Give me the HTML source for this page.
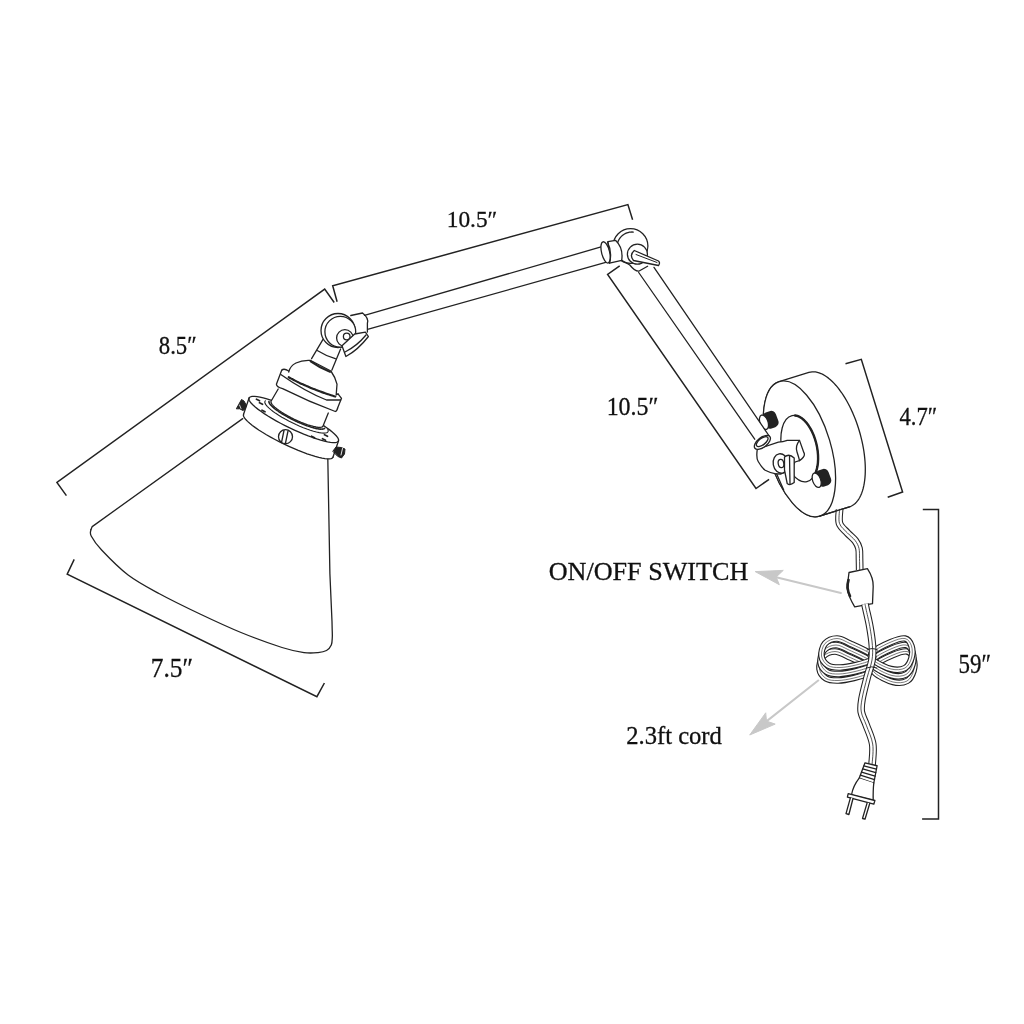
<!DOCTYPE html>
<html><head><meta charset="utf-8"><style>
html,body{margin:0;padding:0;background:#fff;width:1024px;height:1024px;overflow:hidden}
svg{display:block;will-change:transform}
text{font-family:"Liberation Serif",serif;fill:#111;stroke:#111;stroke-width:0.3px}
</style></head><body>
<svg width="1024" height="1024" viewBox="0 0 1024 1024">
<rect width="1024" height="1024" fill="#fff"/>
<g fill="none" stroke="#222" stroke-width="1.5">
<polyline points="66.4,495.6 56.9,482.4 324.7,289.1 334.2,302.5"/>
<polyline points="337.1,301.8 332.7,285.8 627.9,204.6 632.6,219.8"/>
<polyline points="619.7,265.9 607.6,274.4 756,488.5 769.1,479.3"/>
<polyline points="845.5,363.7 861.3,359.3 902.6,492 887.7,497.3"/>
<polyline points="922.8,509.6 938.5,509.6 938.5,818.9 922.1,818.9"/>
<polyline points="74.2,559.4 67.2,574.2 316.9,696.7 324.4,683"/>
</g>
<g fill="none" stroke="#222" stroke-width="1.3" stroke-linejoin="round" stroke-linecap="round">
<polyline points="242.7,418.6 92.2,526.6 90.9,529.7"/>
<path d="M90.9,529.7 C90.95,530.75 89.42,532.62 91.2,536 C92.98,539.38 95.45,543.5 101.6,550 C107.75,556.5 118.47,567.71 128.1,575 C137.73,582.29 147.42,587.25 159.4,593.75 C171.38,600.25 186.4,607.54 200,614 C213.6,620.46 227.33,626.92 241,632.5 C254.67,638.08 271.5,644.15 282,647.5 C292.5,650.85 298,651.75 304,652.6 C310,653.45 314.25,652.95 318,652.6 C321.75,652.25 324.28,651.77 326.5,650.5 C328.72,649.23 330.33,647.25 331.3,645 C332.27,642.75 332.15,639.5 332.3,637 C332.45,634.5 332.22,631.17 332.2,630 L332,621.5 L329.9,573.7 L327.8,457.9"/>
</g>
<g fill="none" stroke="#222" stroke-width="1.3" stroke-linejoin="round" stroke-linecap="round">
<path d="M338.44,441.01 337.78,441.77 336.63,442.28 335.01,442.55 332.94,442.56 330.44,442.32 327.54,441.83 324.27,441.09 320.66,440.12 316.76,438.92 312.6,437.51 308.24,435.9 303.73,434.12 299.1,432.17 294.41,430.08 289.72,427.88 285.07,425.59 280.51,423.22 276.1,420.82 271.89,418.41 267.91,416 264.22,413.64 260.85,411.33 257.84,409.12 255.22,407.02 253.03,405.06 251.28,403.26 250,401.63 249.19,400.2 248.88,398.98 249.06,397.99 L243.56,414.29 243.38,415.28 243.69,416.5 244.5,417.93 245.78,419.56 247.53,421.36 249.72,423.32 252.34,425.42 255.35,427.63 258.72,429.94 262.41,432.3 266.39,434.71 270.6,437.12 275.01,439.52 279.57,441.89 284.22,444.18 288.91,446.38 293.6,448.47 298.23,450.42 302.74,452.2 307.1,453.81 311.26,455.22 315.16,456.42 318.77,457.39 322.04,458.13 324.94,458.62 327.44,458.86 329.51,458.85 331.13,458.58 332.28,458.07 332.94,457.31 Z" fill="#fff" stroke="none"/>
<path d="M338.44,441.01 337.78,441.77 336.63,442.28 335.01,442.55 332.94,442.56 330.44,442.32 327.54,441.83 324.27,441.09 320.66,440.12 316.76,438.92 312.6,437.51 308.24,435.9 303.73,434.12 299.1,432.17 294.41,430.08 289.72,427.88 285.07,425.59 280.51,423.22 276.1,420.82 271.89,418.41 267.91,416 264.22,413.64 260.85,411.33 257.84,409.12 255.22,407.02 253.03,405.06 251.28,403.26 250,401.63 249.19,400.2 248.88,398.98 249.06,397.99 249.72,397.23 250.87,396.72 252.49,396.45 254.56,396.44 257.06,396.68 259.96,397.17 263.23,397.91 266.84,398.88 270.74,400.08 274.9,401.49 279.26,403.1 283.77,404.88 288.4,406.83 293.09,408.92 297.78,411.12 302.43,413.41 306.99,415.78 311.4,418.18 315.61,420.59 319.59,423 323.28,425.36 326.65,427.67 329.66,429.88 332.28,431.98 334.47,433.94 336.22,435.74 337.5,437.37 338.31,438.8 338.62,440.02 338.44,441.01Z" fill="#fff"/>
<polyline points="332.94,457.31 332.28,458.07 331.13,458.58 329.51,458.85 327.44,458.86 324.94,458.62 322.04,458.13 318.77,457.39 315.16,456.42 311.26,455.22 307.1,453.81 302.74,452.2 298.23,450.42 293.6,448.47 288.91,446.38 284.22,444.18 279.57,441.89 275.01,439.52 270.6,437.12 266.39,434.71 262.41,432.3 258.72,429.94 255.35,427.63 252.34,425.42 249.72,423.32 247.53,421.36 245.78,419.56 244.5,417.93 243.69,416.5 243.38,415.28 243.56,414.29"/>
<polyline points="249.06,397.99 243.56,414.29"/><polyline points="338.44,441.01 332.94,457.31"/>
<line x1="256.5" y1="399.3" x2="259.5" y2="400.7" stroke-width="1.8"/>
<line x1="259.5" y1="402.8" x2="262.5" y2="404.2" stroke-width="1.8"/>
<line x1="262.0" y1="410.3" x2="265.0" y2="411.7" stroke-width="1.8"/>
<line x1="324.5" y1="434.8" x2="327.5" y2="436.2" stroke-width="1.8"/>
<line x1="322.5" y1="438.8" x2="325.5" y2="440.2" stroke-width="1.8"/>
<line x1="311.5" y1="436.3" x2="314.5" y2="437.7" stroke-width="1.8"/>
<polyline points="327.8,429.41 328.18,430.54 328.12,431.48 327.63,432.21 326.73,432.73 325.41,433.03 323.71,433.11 321.63,432.97 319.22,432.6 316.5,432.01 313.51,431.22 310.29,430.22 306.88,429.04 303.33,427.69 299.69,426.19 296.01,424.56 292.33,422.81 288.71,420.99 285.2,419.1 281.83,417.18 278.67,415.24 275.75,413.33 273.1,411.46 270.78,409.65 268.8,407.94 267.2,406.35 265.99,404.89 265.2,403.59 264.82,402.46 264.88,401.52 265.37,400.79" stroke-width="1.1"/>
<polyline points="324.58,428.4 323.93,428.8 323.01,429.05 321.84,429.16 320.43,429.13 318.79,428.95 316.93,428.63 314.88,428.18 312.66,427.59 310.28,426.87 307.78,426.04 305.16,425.09 302.47,424.03 299.73,422.88 296.95,421.66 294.18,420.36 291.44,419 288.75,417.6 286.14,416.17 283.63,414.72 281.26,413.28 279.04,411.84 277,410.43 275.15,409.06 273.52,407.74 272.11,406.49 270.95,405.31 270.04,404.23 269.4,403.25 269.03,402.37 268.93,401.62" stroke-width="1.6" stroke-dasharray="2.5 1.2"/>
<circle cx="285.5" cy="436.7" r="7" fill="#fff"/>
<line x1="284" y1="430.5" x2="281.5" y2="442.5"/><line x1="288" y1="431" x2="285.5" y2="443"/>
<path d="M236.5,408.5 L239,404 L241.5,399.5 L244,401 L246.5,405.5 L245,409 L243,410.5 L240,409 Z" fill="#222" stroke-width="1"/>
<path d="M239.5,405 L241,408.5" stroke="#fff" stroke-width="0.8"/>
<path d="M333,451 L336,447 L341,447.5 L345,449 L344.5,454 L341.5,458 L338,456.5 Z" fill="#222" stroke-width="1"/>
<path d="M342.5,448.5 L341,455" stroke="#fff" stroke-width="0.9"/>
<path d="M278.2,389 L271.05,401.21 270.92,402.05 271.24,403.08 272,404.3 273.18,405.68 274.77,407.19 276.75,408.82 279.07,410.53 281.7,412.29 284.58,414.08 287.69,415.86 290.95,417.61 294.31,419.29 297.72,420.87 301.12,422.33 304.45,423.64 307.65,424.78 310.66,425.74 313.45,426.48 315.95,427.01 318.13,427.31 319.95,427.38 321.37,427.21 322.38,426.81 322.95,426.19 L328.3,413 Z" fill="#fff" stroke="none"/>
<polyline points="278.2,389 271.05,401.21 270.92,402.05 271.24,403.08 272,404.3 273.18,405.68 274.77,407.19 276.75,408.82 279.07,410.53 281.7,412.29 284.58,414.08 287.69,415.86 290.95,417.61 294.31,419.29 297.72,420.87 301.12,422.33 304.45,423.64 307.65,424.78 310.66,425.74 313.45,426.48 315.95,427.01 318.13,427.31 319.95,427.38 321.37,427.21 322.38,426.81 322.95,426.19 328.3,413"/>
<path d="M281.7,370.2 L276.4,384.2 Q276.5,387 282.6,388.6 Q309,401.8 335.3,411.5 Q337,411 338,407 L341.5,398.3 L338,393.9" fill="#fff"/>
<path d="M281.7,370.2 Q284,368 288.7,371"/>
<path d="M280.8,374.5 Q304.5,391.2 326.5,400 L340.6,400"/>
<path d="M288.7,372 Q290,366 296,363 Q302,360 310.7,360.5 L330.9,371 Q335.3,377.2 337,384.2 L336.2,394.8 L338,393.9" fill="#fff"/>
<path d="M288.7,377.2 Q309,388.6 335.3,396.5" stroke-width="2.2" stroke-dasharray="3 1"/>
<path d="M310.7,361.4 Q320,368 330,371.9" stroke-width="2"/>
<path d="M311.6,358.7 L323,339.4 M331.8,370.2 L340.6,349 M317.7,350.8 Q326,356 335.3,358.7"/>
<circle cx="338" cy="330.5" r="17" fill="#fff"/>
<circle cx="340.3" cy="331.8" r="15.4" fill="#fff"/>
<path d="M350.8,315.5 L362.5,313 Q369,318 367.4,323.3 L367.4,332.1" fill="#fff"/>
<circle cx="344.9" cy="338" r="8.3" fill="#fff"/>
<circle cx="346.7" cy="336.5" r="3.3"/>
<path d="M342,345.8 L354.7,334 L365.4,332.1 L368.4,336.5 Q358,350 345.9,356.5 Z" fill="#fff"/>
<path d="M345,352 Q357,346 366,335"/>
<path d="M364.5,315.3 L601.9,246.7 M368.4,329.2 L605.7,262.4"/>
<circle cx="630.5" cy="246" r="17.4" fill="#fff"/>
<polyline points="617.51,243.12 617.9,241.87 618.41,240.66 619.01,239.5 619.71,238.4 620.51,237.36 621.39,236.39 622.36,235.51 623.4,234.71 624.5,234.01 625.66,233.41 626.87,232.9 628.12,232.51 629.4,232.23 630.69,232.06 632,232 633.31,232.06"/>
<path d="M608,241.6 L615.5,240.3 Q623.5,248 621.7,260.3 L609.5,263.2 Z" fill="#fff"/>
<ellipse cx="605.6" cy="252.4" rx="4" ry="10.9" transform="rotate(-14 605.6 252.4)" fill="#fff"/>
<path d="M607.5,242 Q612.5,252 609.5,263"/>
<path d="M621.7,260.3 L629.8,265 Q635,271.5 638.7,271.2 L647.6,266.2"/>
<circle cx="637.4" cy="254.2" r="10" fill="#fff"/>
<path d="M634.3,250.5 L658.5,261 Q660.5,263 658.5,265.5 L633.5,260.5 Q629,255 634.3,250.5Z" fill="#fff"/>
<path d="M636,254.5 L657,262.5" stroke-width="1"/>
</g>
<g fill="none" stroke="#222" stroke-width="1.3" stroke-linejoin="round" stroke-linecap="round">
<path d="M808.89,372.44 810.48,372.04 812.13,371.82 813.82,371.79 815.56,371.95 817.33,372.29 819.13,372.81 820.96,373.52 822.82,374.41 824.69,375.48 826.58,376.72 828.47,378.14 830.36,379.73 832.25,381.48 834.13,383.39 836,385.45 837.85,387.66 839.67,390.02 841.47,392.51 843.23,395.13 844.96,397.87 846.64,400.73 848.27,403.69 849.85,406.75 851.37,409.9 852.84,413.14 854.23,416.44 855.56,419.81 856.82,423.24 858,426.71 859.1,430.21 860.12,433.74 861.05,437.29 861.9,440.84 862.66,444.39 863.32,447.93 863.9,451.44 864.37,454.92 864.75,458.36 865.04,461.75 865.22,465.08 865.31,468.34 865.29,471.52 865.18,474.61 864.97,477.61 864.66,480.5 864.25,483.28 863.75,485.94 863.15,488.48 862.46,490.88 861.68,493.14 860.8,495.25 859.84,497.21 858.8,499.01 857.68,500.65 856.48,502.13 855.2,503.43 853.85,504.56 852.43,505.51 850.95,506.27 849.41,506.86 L819.66,516.11 A31.4,70.2 -16.6 0 1 779.14,381.69 Z" fill="#fff"/>
<ellipse cx="799.4" cy="448.9" rx="31.4" ry="70.2" transform="rotate(-16.6 799.4 448.9)" fill="#fff"/>
<ellipse cx="799.5" cy="448.6" rx="17.5" ry="33.8" transform="rotate(-12.7 799.5 448.6)" fill="#fff"/>
<polyline points="795.15,415.46 797.39,415.94 799.66,416.91 801.92,418.36 804.15,420.25 806.32,422.56 808.38,425.27 810.31,428.32 812.07,431.67 813.65,435.28 815.02,439.09 816.16,443.03 817.05,447.06 817.68,451.11 818.03,455.13 818.11,459.05 817.92,462.81 817.44,466.36 816.7,469.65 815.71,472.62 814.47,475.23" stroke-width="2.4"/>
<g transform="translate(769.6,420.2) rotate(-20)"><rect x="-6" y="-8.5" width="14" height="17" rx="5" fill="#222" stroke="none"/><ellipse cx="-6" cy="0" rx="4" ry="7.5" fill="#fff"/></g>
<g transform="translate(822.3,478.2) rotate(-20)"><rect x="-6" y="-8.5" width="14" height="17" rx="5" fill="#222" stroke="none"/><ellipse cx="-6" cy="0" rx="4" ry="7.5" fill="#fff"/></g>
<path d="M757.3,449.2 Q756,458 758.2,461.5 Q762,468 765.2,470.3 Q770,473 776,473.8 L781,474 Q792,470 795,462 L799.5,460.6 Q806,456 803.9,452.7 L799.5,440.4 L787.2,440.4 Q783,442 778.4,442.2 Z" fill="#fff"/>
<path d="M799.5,440.4 Q795,446 797,452 Q799,458 799.5,460.6"/>
<path d="M700,360.2 L754.7,439.2 L769.5,436.5 L700,334.8 Z" fill="#fff" stroke="none"/>
<path d="M638.7,272.5 L754.7,439.2 M654,267.4 L769.5,436.5"/>
<ellipse cx="762.4" cy="442.4" rx="9.5" ry="4.8" transform="rotate(-38 762.4 442.4)" fill="#fff"/>
<ellipse cx="762.2" cy="441.6" rx="7" ry="3.2" transform="rotate(-38 762.2 441.6)" />
<ellipse cx="780.8" cy="463.5" rx="7.6" ry="9.8" transform="rotate(-10 780.8 463.5)" fill="#fff"/>
<ellipse cx="781" cy="463.5" rx="2.8" ry="4.2" transform="rotate(-10 781 463.5)" />
<path d="M784.5,457.1 Q789,453 794.2,458 L794.2,482.6 Q790,486 787.2,483.5 L784.5,470 Z" fill="#fff"/>
<path d="M789.5,456 L790,484"/>
<path d="M776.6,473.8 L783.7,490"/>
<path d="M839.6,509.3 C839.58,511.65 838.22,519.48 839.5,523.4 C840.78,527.32 844.68,529.93 847.3,532.8 C849.92,535.67 853.25,538 855.2,540.6 C857.15,543.2 858.28,545.4 859,548.4 C859.72,551.4 859.38,555 859.5,558.6 C859.62,562.2 859.67,568.1 859.7,570" stroke-width="7.7" stroke="#222" stroke-linecap="butt"/>
<path d="M839.6,509.3 C839.58,511.65 838.22,519.48 839.5,523.4 C840.78,527.32 844.68,529.93 847.3,532.8 C849.92,535.67 853.25,538 855.2,540.6 C857.15,543.2 858.28,545.4 859,548.4 C859.72,551.4 859.38,555 859.5,558.6 C859.62,562.2 859.67,568.1 859.7,570" stroke-width="5.6" stroke="#fff" stroke-linecap="butt"/>
<path d="M839.6,509.3 C839.58,511.65 838.22,519.48 839.5,523.4 C840.78,527.32 844.68,529.93 847.3,532.8 C849.92,535.67 853.25,538 855.2,540.6 C857.15,543.2 858.28,545.4 859,548.4 C859.72,551.4 859.38,555 859.5,558.6 C859.62,562.2 859.67,568.1 859.7,570" stroke-width="0.8" stroke="#222"/>
<line x1="819.66" y1="516.11" x2="849.41" y2="506.86"/>
<path d="M849,572.5 L867.4,568.7 Q873.5,578 873.2,586.5 L872.5,603.6 L854.7,606.8 Q848,596 847.1,587.8 Z" fill="#fff"/>
<path d="M848.5,580 Q846,588 850,596" stroke-width="2.6"/>
<path d="M869,667 C865.5,664.25 853.67,659.08 848,656.5 C842.33,653.92 839.17,651.5 835,651.5 C830.83,651.5 825.58,653.58 823,656.5 C820.42,659.42 819,665.33 819.5,669 C820,672.67 822.92,676.58 826,678.5 C829.08,680.42 833.33,680.58 838,680.5 C842.67,680.42 848.83,679.25 854,678 C859.17,676.75 866.5,674.83 869,673 C871.5,671.17 872.5,669.75 869,667Z" stroke-width="6.5" stroke="#222" stroke-linecap="butt"/>
<path d="M869,667 C865.5,664.25 853.67,659.08 848,656.5 C842.33,653.92 839.17,651.5 835,651.5 C830.83,651.5 825.58,653.58 823,656.5 C820.42,659.42 819,665.33 819.5,669 C820,672.67 822.92,676.58 826,678.5 C829.08,680.42 833.33,680.58 838,680.5 C842.67,680.42 848.83,679.25 854,678 C859.17,676.75 866.5,674.83 869,673 C871.5,671.17 872.5,669.75 869,667Z" stroke-width="4.3" stroke="#fff" stroke-linecap="butt"/>
<path d="M869,667 C865.5,664.25 853.67,659.08 848,656.5 C842.33,653.92 839.17,651.5 835,651.5 C830.83,651.5 825.58,653.58 823,656.5 C820.42,659.42 819,665.33 819.5,669 C820,672.67 822.92,676.58 826,678.5 C829.08,680.42 833.33,680.58 838,680.5 C842.67,680.42 848.83,679.25 854,678 C859.17,676.75 866.5,674.83 869,673 C871.5,671.17 872.5,669.75 869,667Z" stroke-width="0.6" stroke="#222"/>
<path d="M875,665 C878,662 887.67,657.25 893,655 C898.33,652.75 903.58,650.83 907,651.5 C910.42,652.17 912.42,655.75 913.5,659 C914.58,662.25 914.58,667.33 913.5,671 C912.42,674.67 910.42,679.17 907,681 C903.58,682.83 898.33,683.33 893,682 C887.67,680.67 878,675.83 875,673 C872,670.17 872,668 875,665Z" stroke-width="6.5" stroke="#222" stroke-linecap="butt"/>
<path d="M875,665 C878,662 887.67,657.25 893,655 C898.33,652.75 903.58,650.83 907,651.5 C910.42,652.17 912.42,655.75 913.5,659 C914.58,662.25 914.58,667.33 913.5,671 C912.42,674.67 910.42,679.17 907,681 C903.58,682.83 898.33,683.33 893,682 C887.67,680.67 878,675.83 875,673 C872,670.17 872,668 875,665Z" stroke-width="4.3" stroke="#fff" stroke-linecap="butt"/>
<path d="M875,665 C878,662 887.67,657.25 893,655 C898.33,652.75 903.58,650.83 907,651.5 C910.42,652.17 912.42,655.75 913.5,659 C914.58,662.25 914.58,667.33 913.5,671 C912.42,674.67 910.42,679.17 907,681 C903.58,682.83 898.33,683.33 893,682 C887.67,680.67 878,675.83 875,673 C872,670.17 872,668 875,665Z" stroke-width="0.6" stroke="#222"/>
<path d="M870,660.5 C866.5,657.75 854.67,652.58 849,650 C843.33,647.42 840.17,645 836,645 C831.83,645 826.58,647.08 824,650 C821.42,652.92 820,658.83 820.5,662.5 C821,666.17 823.92,670.08 827,672 C830.08,673.92 834.33,674.08 839,674 C843.67,673.92 849.83,672.75 855,671.5 C860.17,670.25 867.5,668.33 870,666.5 C872.5,664.67 873.5,663.25 870,660.5Z" stroke-width="6.5" stroke="#222" stroke-linecap="butt"/>
<path d="M870,660.5 C866.5,657.75 854.67,652.58 849,650 C843.33,647.42 840.17,645 836,645 C831.83,645 826.58,647.08 824,650 C821.42,652.92 820,658.83 820.5,662.5 C821,666.17 823.92,670.08 827,672 C830.08,673.92 834.33,674.08 839,674 C843.67,673.92 849.83,672.75 855,671.5 C860.17,670.25 867.5,668.33 870,666.5 C872.5,664.67 873.5,663.25 870,660.5Z" stroke-width="4.3" stroke="#fff" stroke-linecap="butt"/>
<path d="M870,660.5 C866.5,657.75 854.67,652.58 849,650 C843.33,647.42 840.17,645 836,645 C831.83,645 826.58,647.08 824,650 C821.42,652.92 820,658.83 820.5,662.5 C821,666.17 823.92,670.08 827,672 C830.08,673.92 834.33,674.08 839,674 C843.67,673.92 849.83,672.75 855,671.5 C860.17,670.25 867.5,668.33 870,666.5 C872.5,664.67 873.5,663.25 870,660.5Z" stroke-width="0.6" stroke="#222"/>
<path d="M874,658.5 C877,655.5 886.67,650.75 892,648.5 C897.33,646.25 902.58,644.33 906,645 C909.42,645.67 911.42,649.25 912.5,652.5 C913.58,655.75 913.58,660.83 912.5,664.5 C911.42,668.17 909.42,672.67 906,674.5 C902.58,676.33 897.33,676.83 892,675.5 C886.67,674.17 877,669.33 874,666.5 C871,663.67 871,661.5 874,658.5Z" stroke-width="6.5" stroke="#222" stroke-linecap="butt"/>
<path d="M874,658.5 C877,655.5 886.67,650.75 892,648.5 C897.33,646.25 902.58,644.33 906,645 C909.42,645.67 911.42,649.25 912.5,652.5 C913.58,655.75 913.58,660.83 912.5,664.5 C911.42,668.17 909.42,672.67 906,674.5 C902.58,676.33 897.33,676.83 892,675.5 C886.67,674.17 877,669.33 874,666.5 C871,663.67 871,661.5 874,658.5Z" stroke-width="4.3" stroke="#fff" stroke-linecap="butt"/>
<path d="M874,658.5 C877,655.5 886.67,650.75 892,648.5 C897.33,646.25 902.58,644.33 906,645 C909.42,645.67 911.42,649.25 912.5,652.5 C913.58,655.75 913.58,660.83 912.5,664.5 C911.42,668.17 909.42,672.67 906,674.5 C902.58,676.33 897.33,676.83 892,675.5 C886.67,674.17 877,669.33 874,666.5 C871,663.67 871,661.5 874,658.5Z" stroke-width="0.6" stroke="#222"/>
<path d="M871,654 C867.5,651.25 855.67,646.08 850,643.5 C844.33,640.92 841.17,638.5 837,638.5 C832.83,638.5 827.58,640.58 825,643.5 C822.42,646.42 821,652.33 821.5,656 C822,659.67 824.92,663.58 828,665.5 C831.08,667.42 835.33,667.58 840,667.5 C844.67,667.42 850.83,666.25 856,665 C861.17,663.75 868.5,661.83 871,660 C873.5,658.17 874.5,656.75 871,654Z" stroke-width="6.5" stroke="#222" stroke-linecap="butt"/>
<path d="M871,654 C867.5,651.25 855.67,646.08 850,643.5 C844.33,640.92 841.17,638.5 837,638.5 C832.83,638.5 827.58,640.58 825,643.5 C822.42,646.42 821,652.33 821.5,656 C822,659.67 824.92,663.58 828,665.5 C831.08,667.42 835.33,667.58 840,667.5 C844.67,667.42 850.83,666.25 856,665 C861.17,663.75 868.5,661.83 871,660 C873.5,658.17 874.5,656.75 871,654Z" stroke-width="4.3" stroke="#fff" stroke-linecap="butt"/>
<path d="M871,654 C867.5,651.25 855.67,646.08 850,643.5 C844.33,640.92 841.17,638.5 837,638.5 C832.83,638.5 827.58,640.58 825,643.5 C822.42,646.42 821,652.33 821.5,656 C822,659.67 824.92,663.58 828,665.5 C831.08,667.42 835.33,667.58 840,667.5 C844.67,667.42 850.83,666.25 856,665 C861.17,663.75 868.5,661.83 871,660 C873.5,658.17 874.5,656.75 871,654Z" stroke-width="0.6" stroke="#222"/>
<path d="M873,652 C876,649 885.67,644.25 891,642 C896.33,639.75 901.58,637.83 905,638.5 C908.42,639.17 910.42,642.75 911.5,646 C912.58,649.25 912.58,654.33 911.5,658 C910.42,661.67 908.42,666.17 905,668 C901.58,669.83 896.33,670.33 891,669 C885.67,667.67 876,662.83 873,660 C870,657.17 870,655 873,652Z" stroke-width="6.5" stroke="#222" stroke-linecap="butt"/>
<path d="M873,652 C876,649 885.67,644.25 891,642 C896.33,639.75 901.58,637.83 905,638.5 C908.42,639.17 910.42,642.75 911.5,646 C912.58,649.25 912.58,654.33 911.5,658 C910.42,661.67 908.42,666.17 905,668 C901.58,669.83 896.33,670.33 891,669 C885.67,667.67 876,662.83 873,660 C870,657.17 870,655 873,652Z" stroke-width="4.3" stroke="#fff" stroke-linecap="butt"/>
<path d="M873,652 C876,649 885.67,644.25 891,642 C896.33,639.75 901.58,637.83 905,638.5 C908.42,639.17 910.42,642.75 911.5,646 C912.58,649.25 912.58,654.33 911.5,658 C910.42,661.67 908.42,666.17 905,668 C901.58,669.83 896.33,670.33 891,669 C885.67,667.67 876,662.83 873,660 C870,657.17 870,655 873,652Z" stroke-width="0.6" stroke="#222"/>
<path d="M865,604 C865.17,604.83 865.2,605.25 866,609 C866.8,612.75 868.73,620.42 869.8,626.5 C870.87,632.58 872.03,639.92 872.4,645.5 C872.77,651.08 872.87,654.7 872,660 C871.13,665.3 868.87,670.8 867.2,677.3 C865.53,683.8 862.98,693.22 862,699 C861.02,704.78 860.58,707.63 861.3,712 C862.02,716.37 864.4,719.87 866.3,725.2 C868.2,730.53 871.72,737.7 872.7,744 C873.68,750.3 872.48,758.67 872.2,763 C871.92,767.33 871.2,768.83 871,770" stroke-width="7.7" stroke="#222" stroke-linecap="butt"/>
<path d="M865,604 C865.17,604.83 865.2,605.25 866,609 C866.8,612.75 868.73,620.42 869.8,626.5 C870.87,632.58 872.03,639.92 872.4,645.5 C872.77,651.08 872.87,654.7 872,660 C871.13,665.3 868.87,670.8 867.2,677.3 C865.53,683.8 862.98,693.22 862,699 C861.02,704.78 860.58,707.63 861.3,712 C862.02,716.37 864.4,719.87 866.3,725.2 C868.2,730.53 871.72,737.7 872.7,744 C873.68,750.3 872.48,758.67 872.2,763 C871.92,767.33 871.2,768.83 871,770" stroke-width="5.6" stroke="#fff" stroke-linecap="butt"/>
<path d="M865,604 C865.17,604.83 865.2,605.25 866,609 C866.8,612.75 868.73,620.42 869.8,626.5 C870.87,632.58 872.03,639.92 872.4,645.5 C872.77,651.08 872.87,654.7 872,660 C871.13,665.3 868.87,670.8 867.2,677.3 C865.53,683.8 862.98,693.22 862,699 C861.02,704.78 860.58,707.63 861.3,712 C862.02,716.37 864.4,719.87 866.3,725.2 C868.2,730.53 871.72,737.7 872.7,744 C873.68,750.3 872.48,758.67 872.2,763 C871.92,767.33 871.2,768.83 871,770" stroke-width="0.8" stroke="#222"/>
<path d="M867,650 Q872,647 877.5,650 M866.5,668 Q871.5,665.5 877,668" stroke-width="1"/>
<path d="M865,762.8 877.1,765.75 873.8,783 859.2,778.2Z" fill="#fff"/>
<line x1="863.84" y1="765.88" x2="876.44" y2="769.2"/>
<line x1="862.68" y1="768.96" x2="875.78" y2="772.65"/>
<line x1="861.52" y1="772.04" x2="875.12" y2="776.1"/>
<line x1="860.36" y1="775.12" x2="874.46" y2="779.55"/>
<path d="M859.2,778.2 Q853,786 851.5,795 L873.2,800.5 Q873,790 873.8,783" fill="#fff"/>
<path d="M848.2,793.6 L874.9,800.5 L873.8,804.2 L847.4,797.2 Z" fill="#fff"/>
<path d="M850.4,797.8 L846,813.7 L848.9,814.5 L853,798.5 M867.2,802.6 L862.5,818.5 L865,819.2 L869.8,803.3" fill="#fff"/>
</g>
<g stroke="#c8c8c8" stroke-width="2.1" fill="none" stroke-linecap="round">
<line x1="840.9" y1="592.9" x2="770" y2="575.8"/>
<path d="M782.9,570.4 L755.2,571.6 L779.3,584.7 L776.3,577.3Z" fill="#c8c8c8" stroke-width="1" stroke-linejoin="round"/>
<line x1="818.2" y1="680.5" x2="760" y2="726.5"/>
<path d="M765.5,713.1 L749.7,735 L775.2,724.1 L766.8,721.2Z" fill="#c8c8c8" stroke-width="1" stroke-linejoin="round"/>
</g>

<text transform="translate(158.79,354.40) scale(0.912,1)" font-size="24.93">8.5″</text>
<text transform="translate(446.80,226.52) scale(0.967,1)" font-size="24.12">10.5″</text>
<text transform="translate(606.65,415.48) scale(0.924,1)" font-size="25.88">10.5″</text>
<text transform="translate(899.55,425.05) scale(0.895,1)" font-size="25.30">4.7″</text>
<text transform="translate(958.62,673.02) scale(0.827,1)" font-size="27.73">59″</text>
<text transform="translate(150.72,677.23) scale(0.926,1)" font-size="27.42">7.5″</text>
<text transform="translate(548.65,579.88) scale(1.001,1)" font-size="26.12">ON/OFF SWITCH</text>
<text transform="translate(626.22,743.96) scale(1.007,1)" font-size="24.44">2.3ft cord</text>

</svg>
</body></html>
